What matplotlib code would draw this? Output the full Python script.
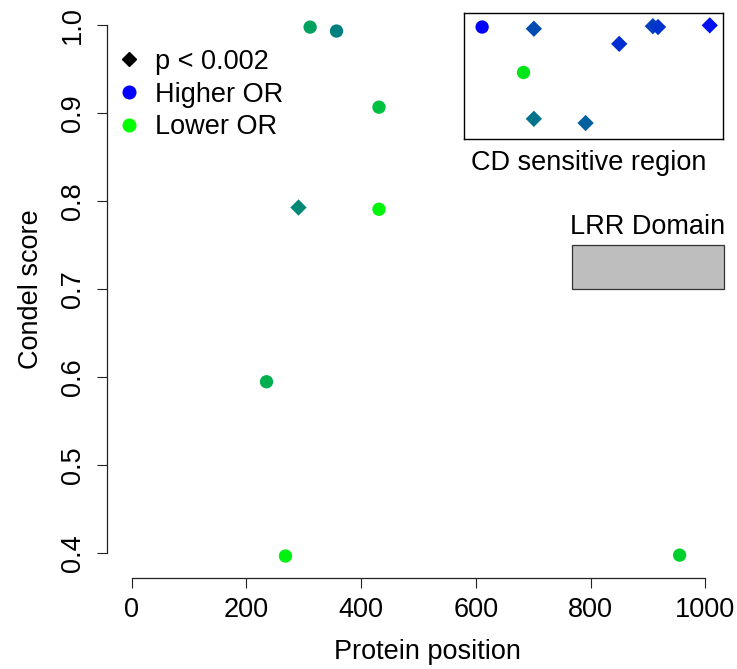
import numpy as np
import matplotlib.pyplot as plt
from matplotlib.colors import LinearSegmentedColormap
from matplotlib.lines import Line2D
from matplotlib.patches import Rectangle

plt.rcParams['font.family'] = ['Liberation Sans', 'DejaVu Sans']

# variants over the whole protein
pos = [311, 357, 431, 289, 431, 235, 268, 955]
condel = [0.998, 0.9935, 0.907, 0.794, 0.791, 0.595, 0.397, 0.398]
signif = [False, False, False, True, False, False, False, False]
or_shade = [0.63, 0.50, 0.75, 0.54, 0.96, 0.69, 0.94, 0.82]   # 0 = higher OR, 1 = lower OR

# zoom on the CD sensitive region
cd_pos = [607, 627, 660, 673, 675, 695, 623, 627, 647]
cd_condel = [0.983, 0.981, 0.963, 0.984, 0.983, 0.985, 0.929, 0.874, 0.869]
cd_signif = [False, True, True, True, True, True, False, True, True]
cd_shade = [0.02, 0.30, 0.18, 0.25, 0.20, 0.07, 0.90, 0.45, 0.38]

xticks = [0, 200, 400, 600, 800, 1000]
yticks = [0.4, 0.5, 0.6, 0.7, 0.8, 0.9, 1.0]
lrr = (767, 1032)   # LRR domain span, drawn at 0.70-0.75

ramp = LinearSegmentedColormap.from_list('or_ramp', ['#0000FF', '#00FF00'])
fs = 19.5

fig = plt.figure(figsize=(7.37, 6.69), dpi=100)
ax = fig.add_axes([0.1456, 0.136, 0.8505, 0.8577])


def draw_points(a, x, y, sig, shade):
    x = np.asarray(x); y = np.asarray(y)
    sig = np.asarray(sig); shade = np.asarray(shade)
    a.scatter(x[~sig], y[~sig], s=92, marker='o', c=ramp(shade[~sig]), linewidths=0, zorder=3)
    a.scatter(x[sig], y[sig], s=69, marker='D', c=ramp(shade[sig]), linewidths=0, zorder=3)


draw_points(ax, pos, condel, signif, or_shade)

ax.set_xlim(-42.5, 1050)
ax.set_ylim(0.372, 1.024)
for side in ['top', 'right']:
    ax.spines[side].set_visible(False)
ax.spines['left'].set_bounds(0.4, 1.0)
ax.spines['bottom'].set_bounds(0, 1000)
for side in ['left', 'bottom']:
    ax.spines[side].set_linewidth(0.9)
    ax.spines[side].set_color('#222222')
ax.set_xticks(xticks)
ax.set_xticklabels([str(t) for t in xticks])
ax.set_yticks(yticks)
ax.set_yticklabels(['%.1f' % t for t in yticks], rotation=90, va='center', ha='center')
ax.tick_params(axis='both', length=7.5, width=0.8, color='#222222', labelsize=fs)
ax.tick_params(axis='x', pad=6)
ax.tick_params(axis='y', pad=17)

ax.set_xlabel('Protein position', fontsize=fs)
ax.xaxis.set_label_coords(0.511, -0.129)
ax.xaxis.label.set_va('center')
ax.set_ylabel('Condel score', fontsize=fs)
ax.yaxis.set_label_coords(-0.122, 0.503)
ax.yaxis.label.set_va('center')

# LRR domain box
ax.add_patch(Rectangle((lrr[0], 0.70), lrr[1] - lrr[0], 0.05, facecolor='#BEBEBE',
                       edgecolor='#333333', linewidth=0.9, zorder=2, clip_on=False))
ax.text((lrr[0] + lrr[1]) / 2, 0.771, 'LRR Domain', fontsize=fs, ha='center', va='center')

handles = [
    Line2D([], [], linestyle='none', marker='D', markersize=7.6, color='black'),
    Line2D([], [], linestyle='none', marker='o', markersize=9.1, color='#0000FF'),
    Line2D([], [], linestyle='none', marker='o', markersize=9.1, color='#00FF00'),
]
ax.legend(handles, ['p < 0.002', 'Higher OR', 'Lower OR'], loc='upper left',
          bbox_to_anchor=(0.0, 0.941), frameon=False, fontsize=fs,
          handlelength=0.8, handletextpad=0.55, labelspacing=0.25, borderaxespad=0)

# inset with the CD sensitive region
ins = fig.add_axes([0.6296, 0.7922, 0.351, 0.1888])
draw_points(ins, cd_pos, cd_condel, cd_signif, cd_shade)
ins.set_xlim(600, 700)
ins.set_ylim(0.85, 1.0)
ins.set_xticks([])
ins.set_yticks([])
for sp in ins.spines.values():
    sp.set_linewidth(1.0)
fig.text(0.799, 0.7564, 'CD sensitive region', fontsize=fs, ha='center', va='center')

fig.savefig('out.png', dpi=100)
